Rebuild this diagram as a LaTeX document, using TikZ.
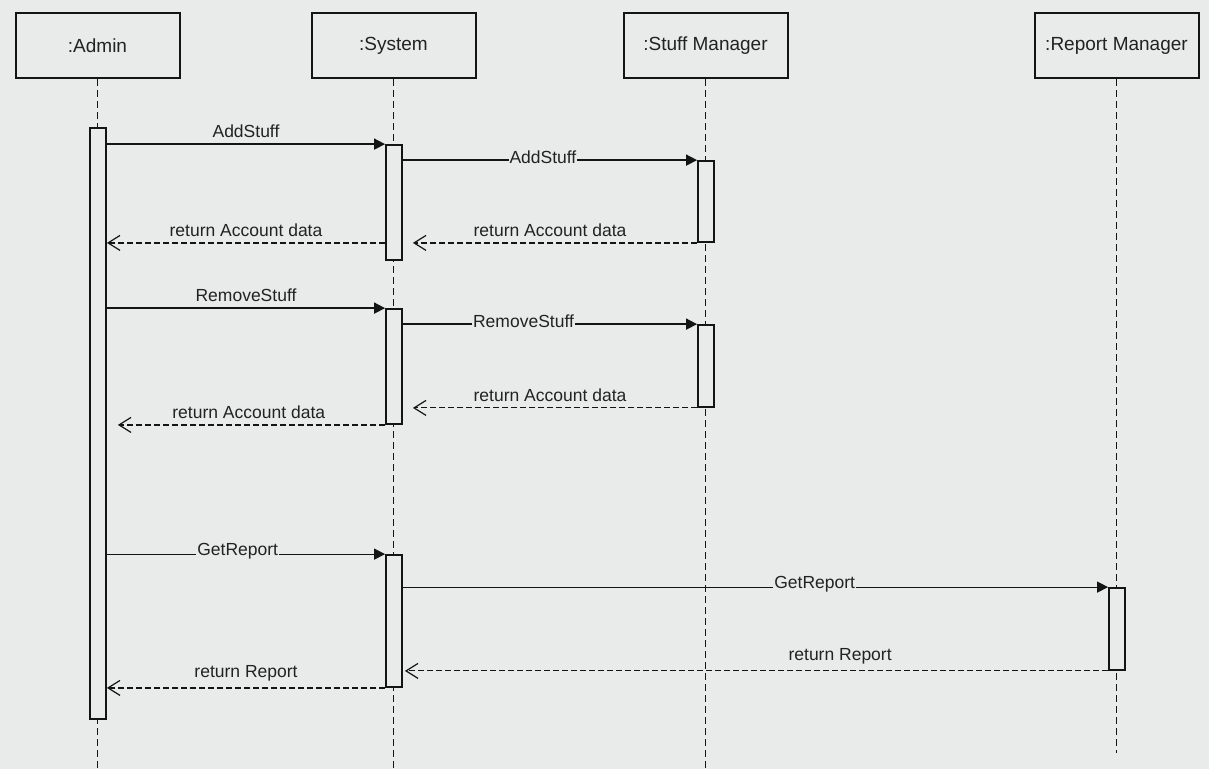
\documentclass[tikz,border=0pt]{standalone}
\usepackage{fontspec}
\setmainfont{Liberation Sans}
\usetikzlibrary{arrows.meta}

\definecolor{bgcol}{RGB}{233,234,234}
\definecolor{inkcol}{RGB}{20,20,20}
\definecolor{txtcol}{RGB}{34,34,34}

\tikzset{
		objbox/.style   = {shape=rectangle, draw=inkcol, line width=2pt,
				minimum width=164pt, minimum height=65pt,
				text=txtcol, font=\fontsize{19}{22}\selectfont},
		actbar/.style   = {shape=rectangle, draw=inkcol, fill=bgcol, line width=1.8pt,
				minimum width=16pt, inner sep=0pt},
		lifeline/.style = {draw=inkcol, line width=1.2pt, dash pattern=on 7pt off 4pt},
		callmsg/.style  = {draw=inkcol, line width=1.6pt,
				-{Triangle[length=11pt,width=11pt]}},
		retmsg/.style   = {draw=inkcol, line width=1.4pt, dash pattern=on 6pt off 3pt,
				-{Straight Barb[length=12pt,width=15pt,line width=1.2pt]}},
		msgtext/.style  = {text=txtcol, font=\fontsize{17.5}{20}\selectfont, inner sep=1pt},
		ontext/.style   = {msgtext, fill=bgcol, yshift=3pt},
		uptext/.style   = {msgtext, above=5pt}
	}

\begin{document}
\begin{tikzpicture}
				[x=1pt, y=-1pt]
				\fill[bgcol] (0,0) rectangle (1209,769);
				\useasboundingbox (0,0) rectangle (1209,769);

				% objects
				\node [objbox] (admin)  at (97.5,45.5)  {:Admin};
				\node [objbox] (system) at (393.5,45.5) {:System};
				\node [objbox] (stuff)  at (705.5,45.5) {:Stuff Manager};
				\node [objbox] (report) at (1116.5,45.5) {:Report Manager};

				% lifeline ends
				\coordinate (adminend)  at (97.5,769);
				\coordinate (systemend) at (393.5,769);
				\coordinate (stuffend)  at (705.5,769);
				\coordinate (reportend) at (1116.5,753);

				\draw [lifeline] (admin.south)  -- (adminend);
				\draw [lifeline] (system.south) -- (systemend);
				\draw [lifeline] (stuff.south)  -- (stuffend);
				\draw [lifeline] (report.south) -- (reportend);

				% activations
				\node [actbar, minimum height=591pt] (adminbar)  at (98,423.5)  {};
				\node [actbar, minimum height=115pt] (sysbar1)   at (394,202.5) {};
				\node [actbar, minimum height=115pt] (sysbar2)   at (394,366.5) {};
				\node [actbar, minimum height=132pt] (sysbar3)   at (394,621)   {};
				\node [actbar, minimum height=81pt]  (stuffbar1) at (706,201.5) {};
				\node [actbar, minimum height=82pt]  (stuffbar2) at (706,366)   {};
				\node [actbar, minimum height=82pt]  (reportbar) at (1117,629)  {};

				% add stuff
				\draw [callmsg] (adminbar.east |- sysbar1.north) -- (sysbar1.north west)
				node [uptext, midway] {AddStuff};
				\draw [callmsg] (sysbar1.east |- stuffbar1.north) -- (stuffbar1.north west)
				node [ontext, pos=0.476] {AddStuff};
				\draw [retmsg, shorten >=10pt] (stuffbar1.south west) -- (sysbar1.east |- stuffbar1.south)
				node [uptext, midway] {return Account data};
				\draw [retmsg] (sysbar1.west |- stuffbar1.south) -- (adminbar.east |- stuffbar1.south)
				node [uptext, midway] {return Account data};

				% remove stuff
				\draw [callmsg] (adminbar.east |- sysbar2.north) -- (sysbar2.north west)
				node [uptext, midway] {RemoveStuff};
				\draw [callmsg] (sysbar2.east |- stuffbar2.north) -- (stuffbar2.north west)
				node [ontext, pos=0.41] {RemoveStuff};
				\draw [retmsg, line width=1pt, shorten >=10pt] (stuffbar2.south west) -- (sysbar2.east |- stuffbar2.south)
				node [uptext, midway] {return Account data};
				\draw [retmsg, shorten >=11pt] (sysbar2.south west) -- (adminbar.east |- sysbar2.south)
				node [uptext, pos=0.49] {return Account data};

				% get report
				\draw [callmsg, line width=1.2pt] (adminbar.east |- sysbar3.north) -- (sysbar3.north west)
				node [ontext, pos=0.47] {GetReport};
				\draw [callmsg, line width=1.2pt] (sysbar3.east |- reportbar.north) -- (reportbar.north west)
				node [ontext, pos=0.584] {GetReport};
				\draw [retmsg, line width=1pt, shorten >=2pt] (reportbar.south west) -- (sysbar3.east |- reportbar.south)
				node [uptext, pos=0.38] {return Report};
				\draw [retmsg] (sysbar3.south west) -- (adminbar.east |- sysbar3.south)
				node [uptext, midway] {return Report};
\end{tikzpicture}
\end{document}
